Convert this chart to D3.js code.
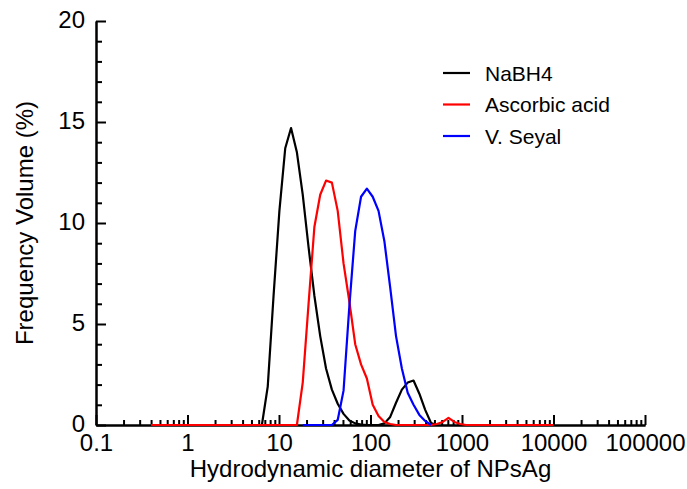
<!DOCTYPE html>
<html lang="en">
<head>
    <meta charset="UTF-8">
    <title>Hydrodynamic diameter of NPsAg</title>
    <script src="https://d3js.org/d3.v7.min.js"></script>
    <style>
        body {
            margin: 0;
            padding: 0;
            background: #fff;
        }
        svg {
            display: block;
            font-family: "Liberation Sans", Arial, sans-serif;
        }
        .axis path, .axis line {
            stroke: #000;
            stroke-width: 2px;
        }
        .axis text {
            fill: #000;
            font-size: 24px;
        }
        .curve {
            fill: none;
            stroke-width: 2.2px;
            stroke-linejoin: round;
        }
    </style>
</head>
<body>
    <svg></svg>

    <script>
        // size bins (nm) of the DLS instrument
        const sizes = [0.4, 0.4632, 0.5365, 0.6213, 0.7195, 0.8332, 0.9649, 1.117, 1.294, 1.499,
            1.736, 2.01, 2.328, 2.696, 3.122, 3.615, 4.187, 4.849, 5.615, 6.503,
            7.531, 8.721, 10.1, 11.7, 13.54, 15.69, 18.17, 21.04, 24.36, 28.21,
            32.67, 37.84, 43.82, 50.75, 58.77, 68.06, 78.82, 91.28, 105.7, 122.4,
            141.8, 164.2, 190.1, 220.2, 255, 295.3, 342, 396.1, 458.7, 531.2,
            615.1, 712.4, 825, 955.4, 1106, 1281, 1484, 1718, 1990, 2305,
            2669, 3091, 3580, 4145, 4801, 5560, 6439, 7456, 8635, 10000];

        // frequency volume (%) per bin, null = not drawn
        const nabh4 = [null, null, null, null, null, null, null, null, null, null,
            null, null, null, null, null, null, null, null, null, 0,
            1.9, 6.4, 10.6, 13.7, 14.7, 13.5, 11.4, 8.8, 6.4, 4.4,
            2.8, 1.75, 1.05, 0.55, 0.22, 0.08, 0.02, 0, 0, 0,
            0.08, 0.4, 1.1, 1.75, 2.1, 2.2, 1.55, 0.75, 0.1, 0,
            null, null, null, null, null, null, null, null, null, null,
            null, null, null, null, null, null, null, null, null, null];

        const ascorbic = [0, 0, 0, 0, 0, 0, 0, 0, 0, 0,
            0, 0, 0, 0, 0, 0, 0, 0, 0, 0,
            0, 0, 0, 0, 0, 0, 2.1, 6.0, 9.8, 11.4,
            12.1, 12.0, 10.6, 8.0, 6.1, 4.0, 3.0, 2.3, 1.0, 0.45,
            0.15, 0.05, 0, 0, 0, 0, 0, 0, 0, 0.05,
            0.15, 0.35, 0.15, 0.05, 0, 0, 0, 0, 0, 0,
            0, 0, 0, 0, 0, 0, 0, 0, 0, 0];

        const seyal = [null, null, null, null, null, null, null, null, null, null,
            null, null, null, null, null, null, null, null, null, null,
            null, null, null, null, null, null, 0, 0, 0, 0,
            0, 0, 0.25, 1.7, 5.9, 9.6, 11.3, 11.7, 11.3, 10.6,
            9.1, 6.8, 4.4, 2.8, 1.6, 1.0, 0.5, 0.2, 0, null,
            null, null, null, null, null, null, null, null, null, null,
            null, null, null, null, null, null, null, null, null, null];

        const seriesNames = ["NaBH4", "Ascorbic acid", "V. Seyal"];
        const seriesColors = ["#000000", "#ff0000", "#0000ff"];
        const seriesValues = [nabh4, ascorbic, seyal];

        const xTicks = [0.1, 1, 10, 100, 1000, 10000, 100000];
        const xTickLabels = ["0.1", "1", "10", "100", "1000", "10000", "100000"];
        const yTicks = [0, 5, 10, 15, 20];

        const width = 687;
        const height = 489;
        const margin = {top: 21, right: 42, bottom: 64, left: 96};

        const svg = d3.select("svg")
            .attr("width", width)
            .attr("height", height);

        const x = d3.scaleLog()
            .domain([0.1, 100000])
            .range([margin.left, width - margin.right]);

        const y = d3.scaleLinear()
            .domain([0, 20])
            .range([height - margin.bottom, margin.top]);

        // minor ticks
        const xMinor = [];
        xTicks.slice(0, -1).forEach(d => {
            for (let k = 2; k <= 9; k++) xMinor.push(d * k);
        });
        const yMinor = d3.range(1, 20).filter(v => v % 5 !== 0);

        svg.append("g")
            .attr("class", "axis")
            .attr("transform", `translate(0,${y(0)})`)
            .call(d3.axisBottom(x).tickValues(xMinor).tickFormat("").tickSize(-5).tickSizeOuter(0));

        svg.append("g")
            .attr("class", "axis")
            .attr("transform", `translate(0,${y(0)})`)
            .call(d3.axisBottom(x)
                .tickValues(xTicks)
                .tickFormat((d, i) => xTickLabels[i])
                .tickSize(-10)
                .tickSizeOuter(0)
                .tickPadding(9));

        svg.append("g")
            .attr("class", "axis")
            .attr("transform", `translate(${x(0.1)},0)`)
            .call(d3.axisLeft(y).tickValues(yMinor).tickFormat("").tickSize(-6).tickSizeOuter(0));

        svg.append("g")
            .attr("class", "axis")
            .attr("transform", `translate(${x(0.1)},0)`)
            .call(d3.axisLeft(y)
                .tickValues(yTicks)
                .tickSize(-10)
                .tickSizeOuter(0)
                .tickPadding(11))
            .selectAll("text")
            .attr("dy", "0.28em");

        // curves
        const line = d3.line()
            .defined(d => d.v !== null)
            .x(d => x(d.s))
            .y(d => y(d.v));

        seriesValues.forEach((vals, i) => {
            const pts = sizes.map((s, j) => ({s: s, v: vals[j]}));
            svg.append("path")
                .attr("class", "curve")
                .attr("stroke", seriesColors[i])
                .attr("d", line(pts));
        });

        // legend
        const legend = svg.append("g")
            .attr("transform", "translate(443,73)");

        seriesNames.forEach((name, i) => {
            const row = legend.append("g").attr("transform", `translate(0,${i * 31.5})`);
            row.append("line")
                .attr("x1", 0).attr("x2", 27)
                .attr("y1", 0).attr("y2", 0)
                .attr("stroke", seriesColors[i])
                .attr("stroke-width", 2.2);
            row.append("text")
                .attr("x", 42)
                .attr("y", 7.5)
                .attr("font-size", 21)
                .text(name);
        });

        // axis titles
        svg.append("text")
            .attr("x", (x(0.1) + x(100000)) / 2)
            .attr("y", 477)
            .attr("text-anchor", "middle")
            .attr("font-size", 24)
            .text("Hydrodynamic diameter of NPsAg");

        svg.append("text")
            .attr("transform", `translate(33,${(y(0) + y(20)) / 2}) rotate(-90)`)
            .attr("text-anchor", "middle")
            .attr("font-size", 24)
            .text("Frequency Volume (%)");
    </script>
</body>
</html>
